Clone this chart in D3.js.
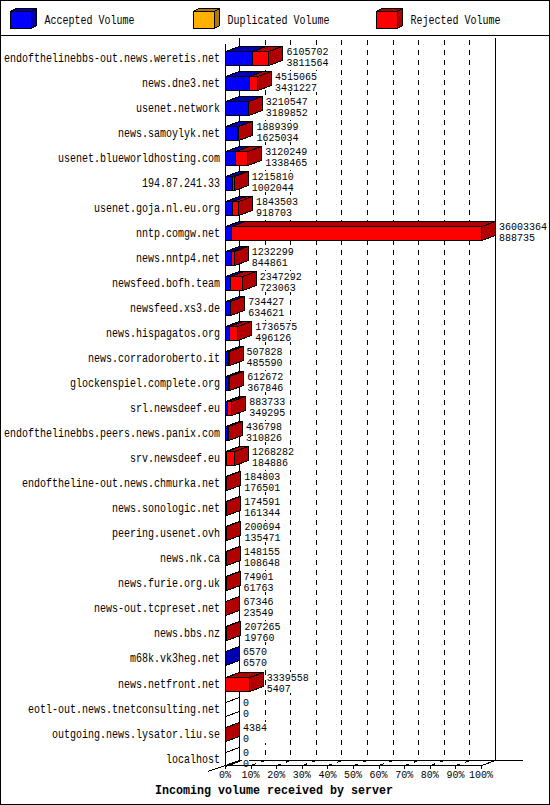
<!DOCTYPE html>
<html>
<head>
<meta charset="utf-8">
<script src="https://cdn.jsdelivr.net/npm/d3@7/dist/d3.min.js"></script>
<style>
  body { margin: 0; background: #fff; }
  text { font-family: "Liberation Mono", "DejaVu Sans Mono", monospace; fill: #000; }
</style>
</head>
<body>
<svg id="chart"></svg>
<script>
// server names, top to bottom
const servers = [
  "endofthelinebbs-out.news.weretis.net", "news.dne3.net", "usenet.network",
  "news.samoylyk.net", "usenet.blueworldhosting.com", "194.87.241.33",
  "usenet.goja.nl.eu.org", "nntp.comgw.net", "news.nntp4.net",
  "newsfeed.bofh.team", "newsfeed.xs3.de", "news.hispagatos.org",
  "news.corradoroberto.it", "glockenspiel.complete.org", "srl.newsdeef.eu",
  "endofthelinebbs.peers.news.panix.com", "srv.newsdeef.eu",
  "endoftheline-out.news.chmurka.net", "news.sonologic.net", "peering.usenet.ovh",
  "news.nk.ca", "news.furie.org.uk", "news-out.tcpreset.net", "news.bbs.nz",
  "m68k.vk3heg.net", "news.netfront.net", "eotl-out.news.tnetconsulting.net",
  "outgoing.news.lysator.liu.se", "localhost"
];
// incoming volume (top number)
const incoming = [
  6105702, 4515065, 3210547, 1889399, 3120249, 1215810, 1843503, 36003364,
  1232299, 2347292, 734427, 1736575, 507828, 612672, 883733, 436798, 1268282,
  184803, 174591, 200694, 148155, 74901, 67346, 207265, 6570, 3339558, 0, 4384, 0
];
// accepted volume (bottom number)
const accepted = [
  3811564, 3431227, 3189852, 1625034, 1338465, 1002044, 918703, 888735,
  844861, 723063, 634621, 496126, 485590, 367846, 349295, 310826, 184886,
  176501, 161344, 135471, 108648, 61763, 23549, 19760, 6570, 5407, 0, 0, 0
];
const pctTicks = [0, 10, 20, 30, 40, 50, 60, 70, 80, 90, 100];
const legendNames = ["Accepted Volume", "Duplicated Volume", "Rejected Volume"];
const legendColors = ["#0000ff", "#ffb000", "#ff0000"];
const legendDark = ["#0000b0", "#b07800", "#b00000"];

const W = 550, H = 805;
const dx = 14, dy = 5;     // 3d depth
const bh = 14;             // bar front height
const floorY = 765;

const svg = d3.select("#chart")
  .attr("width", W).attr("height", H)
  .attr("shape-rendering", "crispEdges");

// frame + legend separator
svg.append("rect").attr("x", 0.5).attr("y", 0.5).attr("width", W - 1).attr("height", H - 1)
  .attr("fill", "#fff").attr("stroke", "#000");
svg.append("line").attr("x1", 0).attr("x2", W).attr("y1", 35.5).attr("y2", 35.5).attr("stroke", "#000");

// legend cubes
const leg = svg.selectAll(".leg").data(legendNames).join("g")
  .attr("class", "leg")
  .attr("transform", (d, i) => `translate(${10 + i * 183},0)`);
leg.append("rect").attr("x", 0.5).attr("y", 11.5).attr("width", 21).attr("height", 17)
  .attr("fill", (d, i) => legendColors[i]).attr("stroke", "#000");
leg.append("polygon")
  .attr("points", "0.5,11.5 5.5,8.5 26.5,8.5 21.5,11.5")
  .attr("fill", (d, i) => legendDark[i]).attr("stroke", "#000");
leg.append("polygon")
  .attr("points", "21.5,11.5 26.5,8.5 26.5,25.5 21.5,28.5")
  .attr("fill", (d, i) => legendDark[i]).attr("stroke", "#000");
leg.append("text").attr("x", 34.5).attr("y", 24)
  .style("font-size", "12px")
  .attr("textLength", d => d.length * 6).attr("lengthAdjust", "spacingAndGlyphs")
  .text(d => d);

// scales
const x = d3.scaleLinear().domain([0, d3.max(incoming)]).range([225, 481]);
const pct = d3.scaleLinear().domain([0, 100]).range([225, 481]);
const y = d3.scaleBand().domain(servers).range([51, 51 + servers.length * 25.02]);

// back walls and floor
const frame = svg.append("g").attr("stroke", "#000").attr("fill", "none");
frame.append("line").attr("x1", 239.5).attr("x2", 239.5).attr("y1", 38).attr("y2", floorY - dy);
frame.append("line").attr("x1", 495.5).attr("x2", 495.5).attr("y1", 38).attr("y2", floorY - dy);
frame.append("line").attr("x1", 239).attr("x2", 523).attr("y1", floorY - dy + 0.5).attr("y2", floorY - dy + 0.5);

// dashed grid lines, floor part then back wall
svg.append("g").selectAll("path").data(pctTicks.slice(1, -1)).join("path")
  .attr("d", d => `M${pct(d) + 0.5},${floorY + 0.5}L${pct(d) + dx + 0.5},${floorY - dy + 0.5}L${pct(d) + dx + 0.5},38`)
  .attr("fill", "none").attr("stroke", "#000").attr("stroke-dasharray", "5,5");

// bars: accepted then rejected, each a small 3d box
function box(g, x0, x1, top, fill, dark) {
  g.append("polygon")
    .attr("points", `${x0},${top} ${x0 + dx},${top - dy} ${x1 + dx},${top - dy} ${x1},${top}`)
    .attr("fill", dark).attr("stroke", "#000");
  g.append("polygon")
    .attr("points", `${x1},${top} ${x1 + dx},${top - dy} ${x1 + dx},${top + bh - dy} ${x1},${top + bh}`)
    .attr("fill", dark).attr("stroke", "#000");
  g.append("rect").attr("x", x0).attr("y", top).attr("width", x1 - x0).attr("height", bh)
    .attr("fill", fill).attr("stroke", "#000");
}

const rows = svg.append("g");
servers.forEach((s, i) => {
  const g = rows.append("g");
  const top = Math.round(y(s)) + 0.5;
  const xa = Math.round(x(accepted[i])) + 0.5;
  const xt = Math.round(x(incoming[i])) + 0.5;
  const x0 = x(0) + 0.5;
  if (incoming[i] === 0) {
    box(g, x0, x0, top, "#fff", "#fff");
  } else {
    if (accepted[i] > 0) box(g, x0, xa, top, legendColors[0], legendDark[0]);
    if (incoming[i] > accepted[i]) box(g, xa, xt, top, legendColors[2], legendDark[2]);
  }
  // value labels: incoming on top, accepted below, on a white patch
  const lx = x(incoming[i]) + dx + 4;
  const labels = [String(incoming[i]), String(accepted[i])];
  g.append("rect").attr("x", lx - 1).attr("y", top - 6)
    .attr("width", d3.max(labels, t => t.length) * 6 + 1).attr("height", 21)
    .attr("fill", "#fff");
  labels.forEach((t, k) => {
    g.append("text").attr("x", lx).attr("y", top + 3 + 11 * k)
      .style("font-size", "11px")
      .attr("textLength", t.length * 6).attr("lengthAdjust", "spacingAndGlyphs")
      .text(t);
  });
  // server name
  g.append("text").attr("x", 220).attr("y", top + 10.5)
    .attr("text-anchor", "end")
    .style("font-size", "12px")
    .attr("textLength", s.length * 6).attr("lengthAdjust", "spacingAndGlyphs")
    .text(s);
});

// front axis and floor drawn over rows
const fr = svg.append("g").attr("stroke", "#000").attr("fill", "none");
fr.append("line").attr("x1", 225.5).attr("x2", 225.5).attr("y1", 44).attr("y2", floorY + 0.5);
fr.append("line").attr("x1", 225).attr("x2", 481.5).attr("y1", floorY + 0.5).attr("y2", floorY + 0.5);
fr.append("line").attr("x1", 208).attr("y1", floorY + 6.5).attr("x2", 239.5).attr("y2", floorY - dy + 0.5);
fr.append("line").attr("x1", 481.5).attr("y1", floorY + 0.5).attr("x2", 495.5).attr("y2", floorY - dy + 0.5);
fr.selectAll(".tick").data(pctTicks).join("line")
  .attr("x1", d => Math.round(pct(d)) + 0.5).attr("x2", d => Math.round(pct(d)) + 0.5)
  .attr("y1", floorY).attr("y2", floorY + 4);

svg.append("g").selectAll("text").data(pctTicks).join("text")
  .attr("x", d => pct(d)).attr("y", 778)
  .attr("text-anchor", "middle")
  .style("font-size", "11px")
  .attr("textLength", d => (d + "%").length * 6).attr("lengthAdjust", "spacingAndGlyphs")
  .text(d => d + "%");

const title = "Incoming volume received by server";
svg.append("text").attr("x", 274).attr("y", 794)
  .attr("text-anchor", "middle")
  .style("font-size", "12px").style("font-weight", "bold")
  .attr("textLength", title.length * 7).attr("lengthAdjust", "spacingAndGlyphs")
  .text(title);
</script>
</body>
</html>
